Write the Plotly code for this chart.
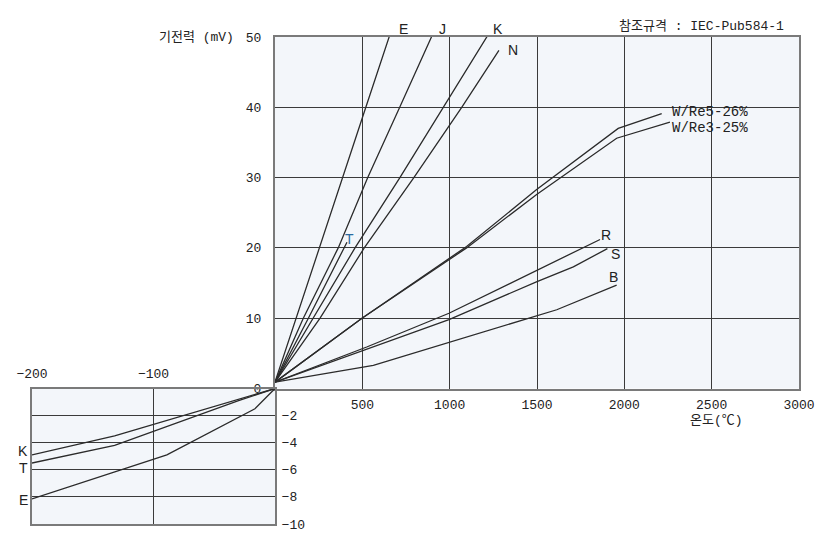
import plotly.graph_objects as go

# ---- Data: temperature (°C) and thermo-EMF (mV) ----
# Positive range curves
E_T = [0, 120, 255, 385, 520, 664]
E_V = [0.9, 10.0, 20.0, 30.0, 40.0, 50.8]
J_T = [0, 162, 362, 531, 714, 912]
J_V = [0.9, 10.0, 20.0, 30.0, 40.0, 50.9]
K_T = [0, 219, 458, 715, 966, 1231]
K_V = [0.9, 10.0, 20.0, 30.0, 40.0, 50.75]
N_T = [0, 258, 511, 795, 1069, 1282]
N_V = [0.9, 10.0, 20.0, 30.0, 40.0, 48.1]
T_T = [0, 191, 412]
T_V = [0.9, 10.0, 20.8]
WRE5_T = [0, 498, 1097, 1498, 1965, 2214]
WRE5_V = [0.9, 10.0, 20.2, 28.3, 37.0, 39.1]
WRE3_T = [0, 498, 1097, 1498, 1956, 2261]
WRE3_V = [0.9, 10.0, 20.0, 27.6, 35.6, 37.9]
R_T = [0, 525, 996, 1546, 1861]
R_V = [0.9, 5.9, 10.7, 17.4, 21.2]
S_T = [0, 498, 996, 1500, 1708, 1903]
S_V = [0.9, 5.3, 9.8, 15.2, 17.3, 19.9]
B_T = [0, 563, 1613, 1956]
B_V = [0.9, 3.3, 11.2, 14.7]

# Negative range curves
NK_T = [-200, -132, 0]
NK_V = [-4.9, -3.5, 0.0]
NT_T = [-200, -132, -30, 0]
NT_V = [-5.5, -4.2, -0.9, 0.0]
NE_T = [-200, -89, -16.5, 0]
NE_V = [-8.15, -4.9, -1.5, 0.0]

# Tick labels
POS_X_TICKS = [0, 500, 1000, 1500, 2000, 2500, 3000]
POS_X_TEXT = ["", "500", "1000", "1500", "2000", "2500", "3000"]
POS_Y_TICKS = [0, 10, 20, 30, 40, 50]
POS_Y_TEXT = ["0", "10", "20", "30", "40", "50"]
NEG_X_TICKS = [-200, -100, 0]
NEG_X_TEXT = ["\u2212200", "\u2212100", ""]
NEG_Y_TICKS = [-10, -8, -6, -4, -2, 0]
NEG_Y_TEXT = ["\u221210", "\u22128", "\u22126", "\u22124", "\u22122", ""]

# Curve name labels (text, temperature, mV)
POS_LABELS = [("N", 1364, 48.2), ("R", 1895, 21.8), ("S", 1952, 19.2), ("B", 1937, 15.8)]
TOP_LABELS = [("E", 733), ("J", 960), ("K", 1275)]          # just above the 50 mV edge
NEG_LABELS = [("K", -4.64), ("T", -5.87), ("E", -8.22)]     # left of the -200 °C edge

W, H = 825, 543
LINE = dict(color="#2b2b2b", width=1.3)
MONO = "Liberation Mono, Noto Sans CJK KR"
SANS = "Liberation Sans"
TXT = "#222222"

fig = go.Figure()

pos_series = [(E_T, E_V), (J_T, J_V), (K_T, K_V), (N_T, N_V), (T_T, T_V),
              (WRE5_T, WRE5_V), (WRE3_T, WRE3_V), (R_T, R_V), (S_T, S_V), (B_T, B_V)]
for xs, ys in pos_series:
    fig.add_trace(go.Scatter(x=xs, y=ys, mode="lines", line=LINE,
                             xaxis="x", yaxis="y", showlegend=False, hoverinfo="skip"))

for xs, ys in [(NK_T, NK_V), (NT_T, NT_V), (NE_T, NE_V)]:
    fig.add_trace(go.Scatter(x=xs, y=ys, mode="lines", line=LINE,
                             xaxis="x2", yaxis="y2", showlegend=False, hoverinfo="skip"))

def px_x(p):
    return p / W

def px_y(p):
    return 1 - p / H

BORDER = "#7a7a7a"
GRID = "#3a3a3a"
common = dict(showline=True, linecolor=BORDER, linewidth=2, mirror=True,
              showgrid=True, gridcolor=GRID, gridwidth=1, zeroline=False,
              ticks="", tickfont=dict(family=MONO, size=13, color=TXT),
              fixedrange=True, automargin=False)

fig.update_layout(
    width=W, height=H,
    margin=dict(l=0, r=0, t=0, b=0, autoexpand=False),
    paper_bgcolor="white",
    plot_bgcolor="#f3f6fa",
    xaxis=dict(domain=[px_x(275), px_x(799)], range=[0, 3000], anchor="y",
               tickmode="array", tickvals=POS_X_TICKS, ticktext=POS_X_TEXT,
               ticklabelstandoff=3, **common),
    yaxis=dict(domain=[px_y(388.5), px_y(37)], range=[0, 50], anchor="x",
               tickmode="array", tickvals=POS_Y_TICKS, ticktext=POS_Y_TEXT,
               ticklabelstandoff=9, **common),
    xaxis2=dict(domain=[px_x(32), px_x(275)], range=[-200, 0], anchor="y2", side="top",
                tickmode="array", tickvals=NEG_X_TICKS, ticktext=NEG_X_TEXT,
                ticklabelstandoff=3, **common),
    yaxis2=dict(domain=[px_y(524), px_y(388.5)], range=[-10, 0], anchor="x2", side="right",
                tickmode="array", tickvals=NEG_Y_TICKS, ticktext=NEG_Y_TEXT,
                ticklabelstandoff=2, **common),
)

ann = []
for t, x, y in POS_LABELS:
    ann.append(dict(text=t, x=x, y=y, xref="x", yref="y", showarrow=False,
                    font=dict(family=SANS, size=14, color=TXT)))
for t, x in TOP_LABELS:
    ann.append(dict(text=t, x=x, y=50, yshift=8, xref="x", yref="y", showarrow=False,
                    font=dict(family=SANS, size=14, color=TXT)))
for t, y in NEG_LABELS:
    ann.append(dict(text=t, x=-200, xshift=-9, y=y, xref="x2", yref="y2", showarrow=False,
                    font=dict(family=SANS, size=14, color=TXT)))
ann.append(dict(text="T", x=429, y=21.3, xref="x", yref="y", showarrow=False,
                font=dict(family=SANS, size=14, color="#2a6a9e")))
ann.append(dict(text="W/Re5-26%", x=2261, y=39.3, xref="x", yref="y", xanchor="left",
                showarrow=False, font=dict(family=MONO, size=14, color=TXT)))
ann.append(dict(text="W/Re3-25%", x=2261, y=37.0, xref="x", yref="y", xanchor="left",
                showarrow=False, font=dict(family=MONO, size=14, color=TXT)))
ann.append(dict(text="기전력 (mV)", x=px_x(236), y=px_y(37), xref="paper", yref="paper",
                xanchor="right", yanchor="middle", showarrow=False,
                font=dict(family=MONO, size=13, color=TXT)))
ann.append(dict(text="참조규격 : IEC-Pub584-1", x=px_x(786), y=px_y(27), xref="paper", yref="paper",
                xanchor="right", yanchor="middle", showarrow=False,
                font=dict(family=MONO, size=13, color=TXT)))
ann.append(dict(text="온도(℃)", x=px_x(716), y=px_y(420), xref="paper", yref="paper",
                xanchor="center", yanchor="middle", showarrow=False,
                font=dict(family=MONO, size=13, color=TXT)))
fig.update_layout(annotations=ann)

fig.write_html("out.html",
               config={"displayModeBar": False, "staticPlot": True},
               post_script="document.body.style.margin='0';document.body.style.padding='0';"
                           "document.body.style.overflow='hidden';")
